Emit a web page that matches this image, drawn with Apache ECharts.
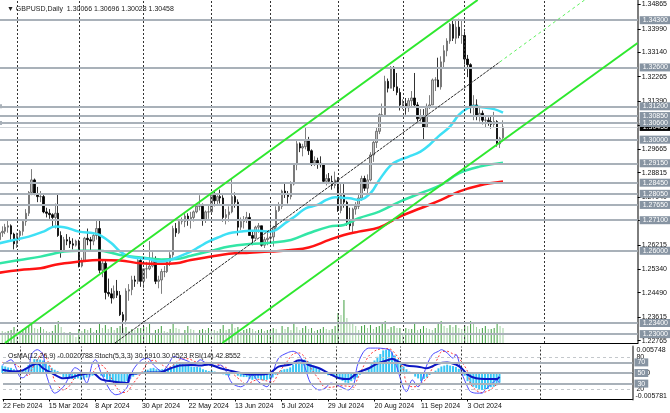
<!DOCTYPE html>
<html><head><meta charset="utf-8">
<script src="https://cdn.jsdelivr.net/npm/echarts@6/dist/echarts.min.js"></script>
<style>html,body{margin:0;padding:0;background:#fff}#c{width:670px;height:413px}</style>
</head><body><div id="c"></div>
<script>
// ---------- DATA ----------
const dateLabelIdx = [0,16,32,48,64,80,96,112,128,144,160];
const dateLabels = ['22 Feb 2024','15 Mar 2024','8 Apr 2024','30 Apr 2024','22 May 2024','13 Jun 2024','5 Jul 2024','29 Jul 2024','20 Aug 2024','11 Sep 2024','3 Oct 2024'];
const monthIdx = [6,27,49,72,92,115,137,158,185];

const open = [1.2640,1.2665,1.2670,1.2685,1.2690,1.2660,1.2625,1.2655,1.2670,1.2705,
1.2735,1.2810,1.2855,1.2805,1.2795,1.2795,1.2740,1.2735,1.2730,1.2720,
1.2735,1.2655,1.2600,1.2640,1.2635,1.2625,1.2620,1.2635,1.2545,1.2565,
1.2645,1.2640,1.2635,1.2655,1.2680,1.2530,1.2555,1.2450,1.2445,1.2430,
1.2455,1.2440,1.2370,1.2350,1.2455,1.2460,1.2495,1.2490,1.2565,1.2490,
1.2535,1.2535,1.2545,1.2565,1.2490,1.2495,1.2525,1.2525,1.2560,1.2585,
1.2680,1.2665,1.2705,1.2705,1.2725,1.2715,1.2720,1.2740,1.2760,1.2760,
1.2710,1.2740,1.2740,1.2800,1.2780,1.2795,1.2790,1.2720,1.2730,1.2740,
1.2795,1.2775,1.2685,1.2705,1.2710,1.2720,1.2655,1.2645,1.2685,1.2690,
1.2620,1.2640,1.2645,1.2650,1.2685,1.2745,1.2760,1.2815,1.2805,1.2795,
1.2840,1.2910,1.2985,1.2970,1.2975,1.2995,1.2960,1.2915,1.2925,1.2915,
1.2910,1.2850,1.2860,1.2850,1.2835,1.2855,1.2745,1.2800,1.2775,1.2705,
1.2690,1.2750,1.2760,1.2790,1.2860,1.2825,1.2855,1.2945,1.2990,1.3030,
1.3090,1.3090,1.3210,1.3185,1.3260,1.3190,1.3170,1.3125,1.3130,1.3115,
1.3140,1.3150,1.3125,1.3075,1.3085,1.3045,1.3120,1.3125,1.3215,1.3215,
1.3190,1.3280,1.3320,1.3355,1.3415,1.3365,1.3405,1.3375,1.3375,1.3290,
1.3270,1.3120,1.3125,1.3085,1.3095,1.3070,1.3070,1.3065,1.3055,1.3065,
1.2985,1.30066];
const high = [1.2710,1.2688,1.2697,1.2710,1.2695,1.2665,1.2665,1.2675,1.2710,1.2750,
1.2815,1.2894,1.2860,1.2830,1.2815,1.2805,1.2755,1.2750,1.2735,1.2770,
1.2803,1.2670,1.2650,1.2660,1.2650,1.2645,1.2640,1.2640,1.2575,1.2650,
1.2680,1.2650,1.2665,1.2710,1.2710,1.2570,1.2570,1.2500,1.2465,1.2475,
1.2495,1.2455,1.2380,1.2465,1.2480,1.2510,1.2510,1.2570,1.2570,1.2535,
1.2560,1.2635,1.2595,1.2580,1.2510,1.2535,1.2545,1.2570,1.2595,1.2690,
1.2700,1.2710,1.2720,1.2735,1.2735,1.2740,1.2745,1.2770,1.2800,1.2770,
1.2745,1.2765,1.2810,1.2815,1.2800,1.2820,1.2800,1.2750,1.2760,1.2860,
1.2810,1.2785,1.2720,1.2725,1.2740,1.2735,1.2670,1.2690,1.2700,1.2690,
1.2650,1.2670,1.2710,1.2690,1.2760,1.2775,1.2820,1.2845,1.2815,1.2850,
1.2915,1.2995,1.2990,1.2985,1.3044,1.3010,1.2965,1.2940,1.2935,1.2940,
1.2915,1.2875,1.2880,1.2870,1.2885,1.2865,1.2840,1.2840,1.2780,1.2755,
1.2755,1.2775,1.2805,1.2870,1.2870,1.2875,1.2955,1.2995,1.3045,1.3095,
1.3130,1.3230,1.3220,1.3265,1.3265,1.3240,1.3185,1.3145,1.3150,1.3150,
1.3175,1.3240,1.3135,1.3110,1.3110,1.3130,1.3160,1.3220,1.3225,1.3295,
1.3300,1.3340,1.3365,1.3420,1.3430,1.3434,1.3435,1.3430,1.3390,1.3305,
1.3275,1.3160,1.3145,1.3120,1.3105,1.3085,1.3080,1.3085,1.3100,1.3070,
1.3010,1.30696];
const low = [1.2630,1.2650,1.2660,1.2665,1.2640,1.2605,1.2610,1.2635,1.2655,1.2690,
1.2725,1.2800,1.2800,1.2775,1.2775,1.2735,1.2720,1.2715,1.2685,1.2680,
1.2650,1.2575,1.2600,1.2620,1.2610,1.2605,1.2615,1.2540,1.2540,1.2560,
1.2620,1.2600,1.2620,1.2640,1.2520,1.2505,1.2425,1.2435,1.2410,1.2425,
1.2430,1.2365,1.2300,1.2335,1.2420,1.2440,1.2470,1.2480,1.2470,1.2465,
1.2500,1.2530,1.2540,1.2480,1.2465,1.2445,1.2505,1.2520,1.2545,1.2575,
1.2650,1.2660,1.2695,1.2685,1.2690,1.2680,1.2705,1.2735,1.2745,1.2690,
1.2700,1.2715,1.2735,1.2760,1.2765,1.2770,1.2705,1.2695,1.2705,1.2735,
1.2755,1.2655,1.2675,1.2680,1.2700,1.2655,1.2620,1.2640,1.2665,1.2615,
1.2610,1.2620,1.2635,1.2615,1.2675,1.2740,1.2750,1.2790,1.2770,1.2785,
1.2835,1.2890,1.2955,1.2940,1.2965,1.2945,1.2905,1.2905,1.2895,1.2900,
1.2845,1.2835,1.2840,1.2820,1.2825,1.2740,1.2735,1.2755,1.2690,1.2675,
1.2665,1.2730,1.2750,1.2780,1.2815,1.2805,1.2850,1.2920,1.2970,1.3020,
1.3085,1.3085,1.3170,1.3185,1.3175,1.3160,1.3105,1.3110,1.3090,1.3100,
1.3120,1.3120,1.3065,1.3065,1.3000,1.3045,1.3110,1.3125,1.3175,1.3190,
1.3180,1.3260,1.3300,1.3345,1.3355,1.3345,1.3365,1.3345,1.3270,1.3225,
1.3095,1.3070,1.3070,1.3065,1.3055,1.3045,1.3050,1.3040,1.3045,1.2975,
1.2970,1.30028];
const close = [1.2665,1.2670,1.2685,1.2690,1.2660,1.2625,1.2655,1.2670,1.2705,1.2735,
1.2810,1.2855,1.2805,1.2795,1.2795,1.2740,1.2735,1.2730,1.2720,1.2735,
1.2655,1.2600,1.2640,1.2635,1.2625,1.2620,1.2635,1.2545,1.2565,1.2645,
1.2640,1.2635,1.2655,1.2680,1.2530,1.2555,1.2450,1.2445,1.2430,1.2455,
1.2440,1.2370,1.2350,1.2455,1.2460,1.2495,1.2490,1.2565,1.2490,1.2535,
1.2535,1.2545,1.2565,1.2490,1.2495,1.2525,1.2525,1.2560,1.2585,1.2680,
1.2665,1.2705,1.2705,1.2725,1.2715,1.2720,1.2740,1.2760,1.2760,1.2710,
1.2740,1.2740,1.2800,1.2780,1.2795,1.2790,1.2720,1.2730,1.2740,1.2795,
1.2775,1.2685,1.2705,1.2710,1.2720,1.2655,1.2645,1.2685,1.2690,1.2620,
1.2640,1.2645,1.2650,1.2685,1.2745,1.2760,1.2815,1.2805,1.2795,1.2840,
1.2910,1.2985,1.2970,1.2975,1.2995,1.2960,1.2915,1.2925,1.2915,1.2910,
1.2850,1.2860,1.2850,1.2835,1.2855,1.2745,1.2800,1.2775,1.2705,1.2690,
1.2750,1.2760,1.2790,1.2860,1.2825,1.2855,1.2945,1.2990,1.3030,1.3090,
1.3090,1.3210,1.3185,1.3260,1.3190,1.3170,1.3125,1.3130,1.3115,1.3140,
1.3150,1.3125,1.3075,1.3085,1.3045,1.3120,1.3125,1.3215,1.3215,1.3190,
1.3280,1.3320,1.3355,1.3415,1.3365,1.3405,1.3375,1.3375,1.3290,1.3270,
1.3120,1.3125,1.3085,1.3095,1.3070,1.3070,1.3065,1.3055,1.3065,1.2985,
1.3005,1.30458];
const volume = [14,12,11,12,13,16,13,12,14,15,17,20,15,14,16,14,12,11,12,18,22,
16,11,10,11,10,6,14,12,14,13,15,11,13,20,15,18,14,16,13,15,17,15,
16,12,14,13,15,15,17,16,19,9,13,14,17,12,11,14,19,15,
14,10,13,17,14,13,8,13,14,13,15,14,13,12,14,18,13,14,20,15,16,
11,13,14,15,14,12,13,14,12,13,13,15,14,10,17,14,16,13,20,16,13,15,17,
14,15,12,13,14,16,14,13,14,17,30,28,43,25,20,19,17,13,
17,18,15,18,14,16,17,19,22,14,16,17,15,15,9,15,14,14,19,13,14,17,15,14,
13,15,20,22,17,15,18,16,18,15,14,18,17,22,21,16,14,15,17,14,14,15,19,17,15];

const cyanIdx = [0,5,10,15,19,22,27,32,34,38,41,44,48,51,54,58,61,65,68,71,75,78,82,85,88,92,94,97,101,104,108,111,114,117,119,122,126,129,133,136,139,143,146,149,153,156,159,161,164,168,171];
const cyanVal = [1.2627,1.2639,1.2651,1.2669,1.2687,1.2685,1.2669,1.2663,1.2657,1.2628,1.2597,1.2579,1.2573,1.2570,1.2561,1.2567,1.2579,1.2597,1.2615,1.2633,1.2651,1.2663,1.2669,1.2672,1.2672,1.2669,1.2675,1.2699,1.2729,1.2753,1.2765,1.2783,1.2793,1.2790,1.2789,1.2783,1.2807,1.2855,1.2909,1.2927,1.2939,1.2957,1.2981,1.3011,1.3047,1.3089,1.3113,1.3119,1.3117,1.3110,1.3097];
const greenIdx = [0,7,14,19,22,27,34,38,41,48,55,60,65,72,78,85,92,99,105,112,117,122,129,136,143,150,156,163,171];
const greenVal = [1.2555,1.2567,1.2579,1.2591,1.2597,1.2600,1.2600,1.2593,1.2585,1.2576,1.2569,1.2570,1.2582,1.2600,1.2615,1.2624,1.2629,1.2639,1.2663,1.2687,1.2693,1.2717,1.2741,1.2777,1.2807,1.2837,1.2879,1.2903,1.2917];
const redIdx = [0,7,14,19,27,34,41,48,55,60,65,72,78,85,92,99,105,112,117,122,129,136,143,150,156,163,171];
const redVal = [1.2521,1.2531,1.2537,1.2550,1.2561,1.2567,1.2565,1.2555,1.2553,1.2555,1.2567,1.2579,1.2589,1.2593,1.2597,1.2603,1.2612,1.2639,1.2657,1.2669,1.2684,1.2723,1.2753,1.2783,1.2813,1.2835,1.2849];

// trend channel lines: [bar index, price] end points
const chanUpperIdx = [1.93, 162.4],  chanUpperVal = [1.22680, 1.35027];
const chanLowerIdx = [75.7, 216.7],  chanLowerVal = [1.22680, 1.33479];
const chanMidIdx = [39.25, 169.9],   chanMidVal = [1.22680, 1.32795];
const chanMidExtIdx = [169.9, 198.7], chanMidExtVal = [1.32795, 1.35027];

const levels = [1.3430,1.3260,1.3120,1.3085,1.3060,1.3000,1.2915,1.2845,1.2805,1.2765,1.2710,1.2600,1.2340,1.2300];
const markedLevels = [1.3120,1.3060];
const lastPrice = 1.30458;
const priceTicks = [1.34865,1.33990,1.33140,1.32265,1.31390,1.30515,1.29665,1.28815,1.27940,1.27090,1.26215,1.25340,1.24490,1.23615,1.22765];

const osma = [0.0016,0.0014,0.0012,0.0011,0.0008,
0.0004,0.0003,0.0006,0.0011,0.0017,
0.0024,0.0030,0.0030,0.0029,0.0027,
0.0021,0.0016,0.0011,0.0007,
0.0004,-0.0003,-0.0009,-0.0012,-0.0013,-0.0013,
-0.0013,-0.0012,-0.0015,-0.0014,-0.0010,-0.0008,-0.0006,-0.0004,-0.0002,
-0.0006,-0.0009,-0.0014,-0.0017,-0.0019,-0.0020,-0.0021,-0.0024,-0.0025,-0.0018,-0.0013,
-0.0008,-0.0004,0.0002,0.0002,
0.0004,0.0007,0.0010,0.0011,0.0008,0.0007,0.0008,0.0009,0.0011,0.0013,0.0018,0.0019,0.0020,0.0019,0.0018,0.0016,0.0014,0.0013,0.0013,0.0012,
0.0008,0.0006,0.0004,0.0005,
0.0003,0.0002,0.0001,-0.0003,-0.0005,-0.0006,0.0001,-0.0001,-0.0006,-0.0008,-0.0009,-0.0009,-0.0013,-0.0015,-0.0013,-0.0012,-0.0015,-0.0016,-0.0015,-0.0013,
-0.0010,-0.0004,0.0001,0.0006,
0.0008,0.0009,0.0012,0.0018,0.0025,0.0027,0.0028,0.0029,0.0026,0.0020,0.0016,0.0012,0.0008,0.0002,-0.0002,
-0.0005,-0.0006,-0.0006,-0.0013,-0.0014,-0.0017,-0.0021,-0.0022,-0.0018,-0.0014,-0.0010,
-0.0004,-0.0001,0.0003,0.0011,0.0019,0.0027,0.0035,0.0041,0.0049,0.0050,0.0051,0.0045,0.0038,0.0030,
0.0022,0.0014,0.0008,0.0003,-0.0001,-0.0008,-0.0012,-0.0018,-0.0013,
-0.0010,-0.0004,0.0001,0.0005,0.0010,0.0014,0.0016,0.0018,0.0016,0.0015,0.0013,
0.0009,0.0003,-0.0006,-0.0018,-0.0025,-0.0030,-0.0033,-0.0036,-0.0037,-0.0036,-0.0035,-0.0031,-0.0030,-0.0027,-0.0021];
const osmaMax = 0.005748, osmaMin = -0.005781;

const stochIdx = [0,3,5,6,7,9,10,12,14,15,17,18,21,23,25,27,29,31,32,34,37,39,41,43,45,48,50,52,55,57,59,61,64,66,68,70,73,75,77,79,82,84,86,88,91,93,95,98,100,102,104,106,109,111,113,116,119,121,122,124,126,129,133,134,136,138,139,141,143,144,146,148,150,151,153,155,156,158,160,161,163,165,166,168,170,171];
const stochMain = [65,75,56,43,41,53,85,94,85,50,18,12,24,43,60,53,31,69,75,50,18,9,12,24,56,75,78,65,53,65,81,78,72,65,75,69,62,65,53,31,24,31,47,34,24,50,78,88,91,85,62,31,18,21,31,25,18,31,62,88,97,97,94,88,56,21,15,37,24,31,65,85,91,94,88,78,85,50,24,15,12,12,18,28,37,30.69];
const sigIdx = [0,3,5,7,9,10,12,14,15,17,18,21,23,25,27,29,31,32,34,37,39,41,43,45,48,50,52,55,57,59,61,64,66,68,70,73,75,77,79,82,84,86,88,91,93,95,98,100,102,104,106,109,111,113,116,119,121,122,124,126,129,133,134,136,138,139,141,143,144,146,148,150,151,153,155,156,158,160,161,163,165,166,168,170,171];
const stochSignal = [70,68,65,52,45,55,75,88,80,55,35,18,25,42,52,48,50,58,65,45,25,13,15,30,52,70,74,65,60,66,75,77,72,70,70,68,64,60,50,36,28,34,38,35,33,50,72,86,88,80,60,37,23,23,26,25,23,37,60,82,94,96,93,80,55,30,24,25,30,40,60,80,90,91,86,84,71,53,30,17,13,14,19,28,30.05];
const rsiIdx = [0,4,7,10,12,14,17,21,24,27,31,34,38,41,43,44,48,51,54,58,61,65,68,71,75,78,82,85,88,92,95,99,102,104,105,109,112,116,119,122,126,129,133,134,136,139,143,146,150,153,156,158,160,163,166,170,171];
const rsiVal = [56,53,55,64,68,59,50,40,42,47,50,38,34,32,31,47,50,51,51,59,64,65,64,66,59,55,50,47,47,50,62,66,74,72,66,59,50,40,38.5,50,59,68,75,77,72,64,62,59,68,70,66,59,47,40,38.5,38.5,42.86];
const stochLevelsDashed = [80, 20];
const stochLevelsBoxed = [70, 50, 30];

// ---------- CHART ----------
const FONT = 'Liberation Sans';
const X0 = 0.23, X1 = 216.73;
const P0 = 1.22680, P1 = 1.35027;
const pairs = (ix, v) => ix.map((x, k) => [x, v[k]]);
const candleData = close.map((c, i) => [i, open[i], c, low[i], high[i]]);
const volData = volume.map((v, i) => [i, v]);
const osmaData = osma.map((v, i) => [i, v]);
const labelPos = dateLabelIdx.map(v => Math.max(v, X0));
const boxLabel = (bg) => ({show:true, position:'end', distance:2, fontSize:7, color:'#fff',
  backgroundColor:bg, padding:[1,3,0,3], fontFamily:FONT});

const chart = echarts.init(document.getElementById('c'), null, {renderer:'canvas'});
const hiddenX = (g) => ({type:'value', gridIndex:g, min:X0, max:X1, axisLabel:{show:false}, axisTick:{show:false}, splitLine:{show:false}});
chart.setOption({
  animation:false,
  backgroundColor:'#ffffff',
  textStyle:{fontFamily:FONT},
  title:[
    {text:'▼ GBPUSD,Daily  1.30066 1.30696 1.30028 1.30458', left:2, top:1,
     textStyle:{fontSize:7, fontWeight:'normal', color:'#222', fontFamily:FONT}},
    {text:'OsMA(12,26,9) -0.0020788 Stoch(5,3,3) 30.6910 30.0523 RSI(14) 42.8552', left:3, top:348,
     textStyle:{fontSize:7, fontWeight:'normal', color:'#222', fontFamily:FONT}}
  ],
  grid:[
    {left:0, top:0, width:638, height:343},
    {left:0, top:346.5, width:638, height:53}
  ],
  xAxis:[
    Object.assign(hiddenX(0), {axisLine:{show:true, lineStyle:{color:'#000', width:1}}}),
    {type:'value', gridIndex:1, min:X0, max:X1, splitLine:{show:false},
     axisLine:{show:true, lineStyle:{color:'#000', width:1}},
     axisTick:{show:true, customValues:labelPos, length:2, lineStyle:{color:'#000'}},
     axisLabel:{customValues:labelPos, align:'left', fontSize:7, margin:3, color:'#111',
       formatter:(v)=>{const k=dateLabelIdx.indexOf(Math.round(v)); return k>=0?dateLabels[k]:'';}}},
    Object.assign(hiddenX(1), {position:'top', axisLine:{show:true, lineStyle:{color:'#000', width:1}}})
  ],
  yAxis:[
    {type:'value', gridIndex:0, position:'right', min:P0, max:P1, splitLine:{show:false},
     axisLine:{show:true, lineStyle:{color:'#7d7d7d', width:2}},
     axisTick:{show:true, customValues:priceTicks, length:3, lineStyle:{color:'#000'}},
     axisLabel:{customValues:priceTicks, formatter:(v)=>v.toFixed(5), fontSize:7, margin:4, color:'#111'}},
    {type:'value', gridIndex:0, min:0, max:343, show:false, splitLine:{show:false}},
    {type:'value', gridIndex:1, position:'right', min:0, max:100, splitLine:{show:false},
     axisLine:{show:true, lineStyle:{color:'#7d7d7d', width:2}}, axisTick:{show:false},
     axisLabel:{customValues:[20,50,80], formatter:(v)=> v===50?'0.00':String(v), fontSize:7, margin:4, color:'#111'}},
    {type:'value', gridIndex:1, position:'right', min:osmaMin, max:osmaMax, splitLine:{show:false},
     axisLine:{show:false}, axisTick:{show:false},
     axisLabel:{customValues:[osmaMax], formatter:()=>osmaMax.toFixed(6), verticalAlign:'top', fontSize:7, margin:4, color:'#111'}},
    {type:'value', gridIndex:1, position:'right', min:osmaMin, max:osmaMax, splitLine:{show:false},
     axisLine:{show:false}, axisTick:{show:false},
     axisLabel:{customValues:[osmaMin], formatter:()=>osmaMin.toFixed(6), verticalAlign:'bottom', fontSize:7, margin:3, color:'#111'}}
  ],
  series:[
    // month separators (main pane)
    {type:'line', xAxisIndex:0, yAxisIndex:0, data:[], z:0, silent:true,
     markLine:{silent:true, symbol:'none', animation:false, label:{show:false},
       lineStyle:{color:'#333', type:[2,2], width:1}, data:monthIdx.map(v=>({xAxis:v}))}},
    // horizontal levels
    {type:'line', xAxisIndex:0, yAxisIndex:0, data:[], z:1, silent:true,
     markLine:{silent:true, symbol:'none', animation:false, precision:5,
       lineStyle:{color:'#a9b1b9', width:2, type:'solid'},
       label:Object.assign(boxLabel('#8794a2'), {formatter:(p)=>p.value.toFixed(5)}),
       data:[{yAxis:lastPrice, lineStyle:{color:'#d0d4d8', width:1}, label:{backgroundColor:'#000'}}]
         .concat(levels.map(v=> markedLevels.includes(v)
           ? {yAxis:v, symbol:['emptyRect','emptyRect'], symbolSize:4}
           : {yAxis:v}))}},
    // volumes
    {type:'bar', xAxisIndex:0, yAxisIndex:1, data:volData, barWidth:1, z:2, silent:true,
     itemStyle:{color:(p)=> (p.dataIndex>0 && volume[p.dataIndex] >= volume[p.dataIndex-1]) ? '#3f9f3f' : '#9fd09f'}},
    // candles
    {type:'candlestick', xAxisIndex:0, yAxisIndex:0, data:candleData, encode:{x:0, y:[1,2,3,4]},
     barWidth:2, z:3, silent:true,
     itemStyle:{color:'#c4c4c4', color0:'#000000', borderColor:'#5e5e5e', borderColor0:'#000000', borderWidth:0.8}},
    // moving averages
    {type:'line', xAxisIndex:0, yAxisIndex:0, data:pairs(redIdx, redVal), smooth:0.4, showSymbol:false, z:4,
     lineStyle:{color:'#ff1414', width:2.5}},
    {type:'line', xAxisIndex:0, yAxisIndex:0, data:pairs(greenIdx, greenVal), smooth:0.4, showSymbol:false, z:4,
     lineStyle:{color:'#33e6a6', width:2.5}},
    {type:'line', xAxisIndex:0, yAxisIndex:0, data:pairs(cyanIdx, cyanVal), smooth:0.4, showSymbol:false, z:4,
     lineStyle:{color:'#3ee0f5', width:2.5}},
    // channel
    {type:'line', xAxisIndex:0, yAxisIndex:0, data:pairs(chanUpperIdx, chanUpperVal), showSymbol:false, z:5,
     lineStyle:{color:'#2ee82e', width:2}},
    {type:'line', xAxisIndex:0, yAxisIndex:0, data:pairs(chanLowerIdx, chanLowerVal), showSymbol:false, z:5,
     lineStyle:{color:'#2ee82e', width:2}},
    {type:'line', xAxisIndex:0, yAxisIndex:0, data:pairs(chanMidIdx, chanMidVal), showSymbol:false, z:5,
     lineStyle:{color:'#2a2a2a', width:1, type:[3,1]}},
    {type:'line', xAxisIndex:0, yAxisIndex:0, data:pairs(chanMidExtIdx, chanMidExtVal), showSymbol:false, z:5,
     lineStyle:{color:'#5ef05e', width:1, type:[3,3]}},

    // ---- indicator pane ----
    {type:'line', xAxisIndex:1, yAxisIndex:2, data:[], z:0, silent:true,
     markLine:{silent:true, symbol:'none', animation:false, label:{show:false},
       lineStyle:{color:'#333', type:[2,2], width:1}, data:monthIdx.map(v=>({xAxis:v}))}},
    {type:'line', xAxisIndex:1, yAxisIndex:2, data:[], z:1, silent:true,
     markLine:{silent:true, symbol:'none', animation:false,
       data: stochLevelsDashed.map(v=>({yAxis:v, lineStyle:{color:'#c4c8cc', width:1, type:[3,3]}, label:{show:false}}))
        .concat(stochLevelsBoxed.map(v=>({yAxis:v, lineStyle:{color:'#a9b1b9', width:2, type:'solid'},
          label:Object.assign(boxLabel('#8794a2'), {formatter:String(v)})})))}},
    {type:'bar', xAxisIndex:1, yAxisIndex:3, data:osmaData, barWidth:2, z:2, silent:true,
     itemStyle:{color:'#38c6f4'}},
    {type:'line', xAxisIndex:1, yAxisIndex:2, data:pairs(sigIdx, stochSignal), smooth:0.3, showSymbol:false, z:3,
     lineStyle:{color:'#ff3b3b', width:1, type:[2,2]}},
    {type:'line', xAxisIndex:1, yAxisIndex:2, data:pairs(stochIdx, stochMain), smooth:0.3, showSymbol:false, z:3,
     lineStyle:{color:'#4a4aff', width:1}},
    {type:'line', xAxisIndex:1, yAxisIndex:2, data:pairs(rsiIdx, rsiVal), smooth:0.3, showSymbol:false, z:4,
     lineStyle:{color:'#0b16c4', width:2}}
  ]
});
</script></body></html>
